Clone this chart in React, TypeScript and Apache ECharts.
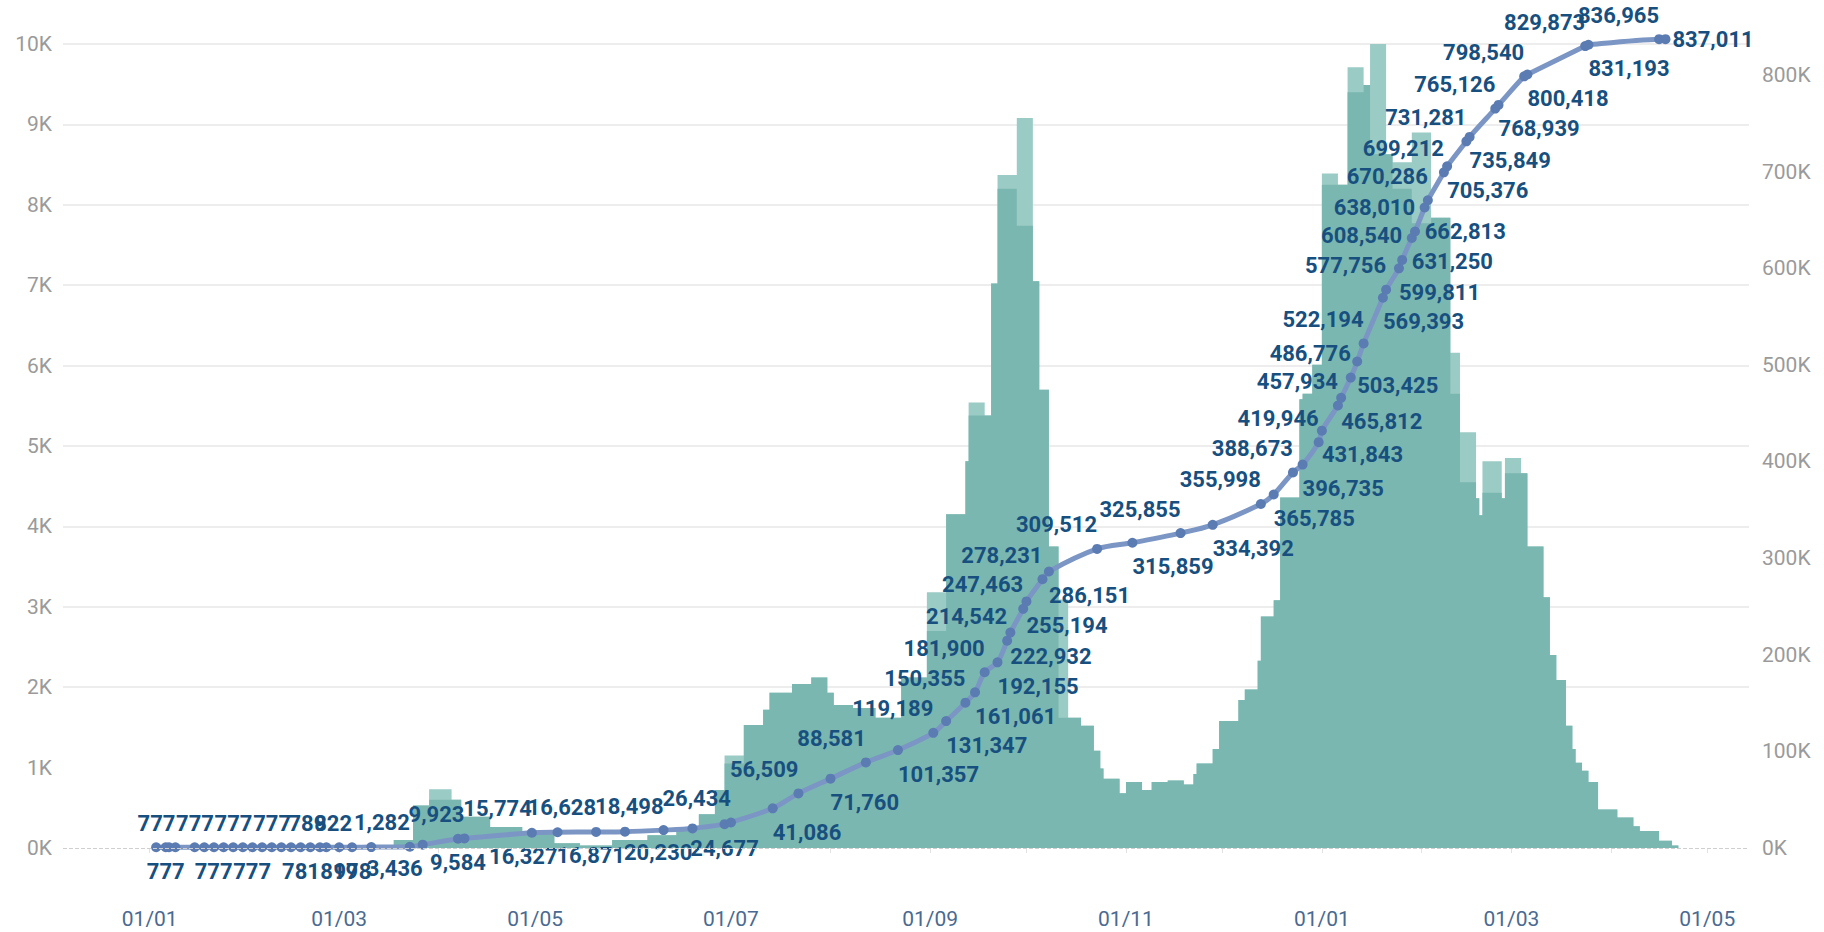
import React, { useEffect, useRef } from 'react';
import * as echarts from 'echarts';

// Daily new cases (stepped bars): step start date, outer (light) value, inner (dark) value
const stepDates = [
  '2021-03-14', '2021-03-18', '2021-03-24', '2021-03-29', '2021-04-05', '2021-04-08', '2021-04-17', '2021-04-27',
  '2021-05-07', '2021-05-15', '2021-05-25', '2021-06-05', '2021-06-14', '2021-06-21', '2021-06-26', '2021-06-29',
  '2021-07-05', '2021-07-11', '2021-07-13', '2021-07-20', '2021-07-26', '2021-07-31', '2021-08-02', '2021-08-08',
  '2021-08-15', '2021-08-23', '2021-08-31', '2021-09-06', '2021-09-12', '2021-09-13', '2021-09-18', '2021-09-20',
  '2021-09-22', '2021-09-28', '2021-10-03', '2021-10-05', '2021-10-08', '2021-10-11', '2021-10-14', '2021-10-18',
  '2021-10-22', '2021-10-24', '2021-10-25', '2021-10-30', '2021-11-01', '2021-11-06', '2021-11-09', '2021-11-14',
  '2021-11-19', '2021-11-22', '2021-11-23', '2021-11-28', '2021-11-30', '2021-12-06', '2021-12-08', '2021-12-12',
  '2021-12-13', '2021-12-17', '2021-12-19', '2021-12-25', '2021-12-26', '2021-12-29', '2022-01-01', '2022-01-06',
  '2022-01-09', '2022-01-14', '2022-01-16', '2022-01-21', '2022-01-23', '2022-01-29', '2022-02-04', '2022-02-10',
  '2022-02-13', '2022-02-18', '2022-02-19', '2022-02-20', '2022-02-26', '2022-02-27', '2022-03-04', '2022-03-06',
  '2022-03-11', '2022-03-13', '2022-03-15', '2022-03-18', '2022-03-20', '2022-03-21', '2022-03-23', '2022-03-25',
  '2022-03-28', '2022-04-03', '2022-04-08', '2022-04-10', '2022-04-16', '2022-04-20', '2022-04-22'
];
const stepValuesOuter = [
  20, 100, 530, 730, 600, 390, 260, 180,
  60, 30, 100, 160, 260, 420, 720, 1150,
  1530, 1720, 1930, 2040, 2120, 1930, 1780, 1740,
  1620, 2120, 3180, 4150, 4810, 5540, 5380, 7020,
  8370, 9080, 7050, 5700, 3750, 3090, 1620, 1520,
  1210, 990, 860, 680, 820, 720, 820, 840,
  790, 920, 1050, 1230, 1580, 1840, 1970, 2330,
  2880, 3080, 4360, 5580, 5650, 6010, 8390, 8250,
  9710, 9490, 10100, 8630, 8530, 8900, 7840, 6160,
  5170, 4350, 4140, 4810, 4350, 4850, 4660, 3750,
  3120, 2400, 2090, 1520, 1230, 1060, 960, 820,
  480, 380, 270, 210, 90, 30, 0
];
const stepValuesInner = [
  20, 100, 530, 600, 600, 390, 260, 180,
  60, 30, 100, 160, 260, 420, 720, 1050,
  1530, 1720, 1930, 2040, 2120, 1930, 1780, 1740,
  1620, 2120, 2700, 4150, 4810, 5380, 5380, 7020,
  8200, 7740, 7050, 5700, 3750, 1620, 1620, 1520,
  1210, 990, 860, 680, 820, 720, 820, 840,
  790, 920, 1050, 1230, 1580, 1840, 1970, 2330,
  2880, 3080, 4360, 5580, 5650, 6010, 8250, 8250,
  9400, 9490, 8630, 8630, 8200, 7770, 7840, 5650,
  4550, 4350, 4140, 4420, 4350, 4660, 4660, 3750,
  3120, 2400, 2090, 1520, 1230, 1060, 960, 820,
  480, 380, 270, 210, 90, 30, 0
];

// Cumulative cases (labelled points)
const cumDates = [
  '2021-01-03', '2021-01-06', '2021-01-07', '2021-01-09', '2021-01-15', '2021-01-18', '2021-01-21', '2021-01-24',
  '2021-01-27', '2021-01-30', '2021-02-02', '2021-02-05', '2021-02-08', '2021-02-11', '2021-02-14', '2021-02-17',
  '2021-02-20', '2021-02-23', '2021-02-25', '2021-03-01', '2021-03-05', '2021-03-11', '2021-03-23', '2021-03-27',
  '2021-04-07', '2021-04-09', '2021-04-30', '2021-05-08', '2021-05-20', '2021-05-29', '2021-06-10', '2021-06-19',
  '2021-06-29', '2021-07-01', '2021-07-14', '2021-07-22', '2021-08-01', '2021-08-12', '2021-08-22', '2021-09-02',
  '2021-09-06', '2021-09-12', '2021-09-15', '2021-09-18', '2021-09-22', '2021-09-25', '2021-09-26', '2021-09-30',
  '2021-10-01', '2021-10-06', '2021-10-08', '2021-10-23', '2021-11-03', '2021-11-18', '2021-11-28', '2021-12-13',
  '2021-12-17', '2021-12-23', '2021-12-26', '2021-12-31', '2022-01-01', '2022-01-06', '2022-01-07', '2022-01-10',
  '2022-01-12', '2022-01-14', '2022-01-20', '2022-01-21', '2022-01-25', '2022-01-26', '2022-01-29', '2022-01-30',
  '2022-02-02', '2022-02-03', '2022-02-08', '2022-02-09', '2022-02-15', '2022-02-16', '2022-02-24', '2022-02-25',
  '2022-03-05', '2022-03-06', '2022-03-24', '2022-03-25', '2022-04-16', '2022-04-18'
];
const cumValues = [
  777, 777, 777, 777, 777, 777, 777, 777,
  777, 777, 777, 777, 777, 777, 777, 777,
  777, 781, 789, 819, 822, 978, 1282, 3436,
  9584, 9923, 15774, 16327, 16628, 16871, 18498, 20230,
  24677, 26434, 41086, 56509, 71760, 88581, 101357, 119189,
  131347, 150355, 161061, 181900, 192155, 214542, 222932, 247463,
  255194, 278231, 286151, 309512, 315859, 325855, 334392, 355998,
  365785, 388673, 396735, 419946, 431843, 457934, 465812, 486776,
  503425, 522194, 569393, 577756, 599811, 608540, 631250, 638010,
  662813, 670286, 699212, 705376, 731281, 735849, 765126, 768939,
  798540, 800418, 829873, 831193, 836965, 837011
];
// label placement per point: a = above, b = below, r = right, - = none;
// < text ends at point, > text starts at point, = centred
const cumLabelSide = [
  '-', 'b=', '-', 'a<', 'b>', '-', 'a<', '-',
  'b>', '-', 'a<', '-', '-', '-', 'a<', '-',
  '-', 'b<', 'a<', 'b=', 'a<', 'b<', 'a<', 'b<',
  'b=', 'a<', 'a<', 'b<', 'a<', 'b<', 'a<', 'b<',
  'b=', 'a<', 'b>', 'a<', 'b>', 'a<', 'b>', 'a<',
  'b>', 'a<', 'b>', 'a<', 'b>', 'a<', 'b>', 'a<',
  'b>', 'a<', 'b>', 'a<', 'b>', 'a<', 'b>', 'a<',
  'b>', 'a<', 'b>', 'a<', 'b>', 'a<', 'b>', 'a<',
  'b>', 'a<', 'b>', 'a<', 'b>', 'a<', 'b>', 'a<',
  'b>', 'a<', 'a<', 'b>', 'a<', 'b>', 'a<', 'b>',
  'a<', 'b>', 'a<', 'b>', 'a<', 'r'
];

const xLabelDates = ['2021-01-01', '2021-03-01', '2021-05-01', '2021-07-01', '2021-09-01', '2021-11-01', '2022-01-01', '2022-03-01', '2022-05-01'];
const xTickDates = [
  '2021-01-01', '2021-02-01', '2021-03-01', '2021-04-01', '2021-05-01', '2021-06-01', '2021-07-01', '2021-08-01',
  '2021-09-01', '2021-10-01', '2021-11-01', '2021-12-01', '2022-01-01', '2022-02-01', '2022-03-01', '2022-04-01', '2022-05-01'
];
const xMin = '2020-12-05';
const xMax = '2022-05-14';

const ts = (s: string) => Date.parse(s + 'T00:00:00Z');
const pad = (n: number) => (n < 10 ? '0' + n : '' + n);

function labelFor(code: string): any {
  if (code === '-') return { show: false };
  if (code === 'r') return { show: true, position: 'right', align: 'left', distance: 2 };
  const position = code[0] === 'a' ? 'top' : 'bottom';
  const align = code[1] === '<' ? 'right' : code[1] === '>' ? 'left' : 'center';
  return { show: true, position, align, distance: 8 };
}

export default function App() {
  const ref = useRef<HTMLDivElement>(null);
  useEffect(() => {
    if (!ref.current) return;
    const chart = echarts.init(ref.current, undefined, { renderer: 'svg' });

    const outerData = stepDates.map((d, i) => [ts(d), stepValuesOuter[i]]);
    const innerData = stepDates.map((d, i) => [ts(d), stepValuesInner[i]]);
    const cumData = cumDates.map((d, i) => ({ value: [ts(d), cumValues[i]], label: labelFor(cumLabelSide[i]) }));

    const axisFont = { fontFamily: 'Roboto', fontSize: 21 };
    const gridColors = ['rgba(0,0,0,0)'].concat(Array(10).fill('#ededed'));

    chart.setOption({
      animation: false,
      backgroundColor: '#ffffff',
      grid: { left: 63, right: 75, top: 44, bottom: 84, containLabel: false },
      xAxis: {
        type: 'value',
        min: ts(xMin),
        max: ts(xMax),
        offset: 46,
        axisLine: { show: false },
        axisTick: {
          show: true,
          customValues: xTickDates.map(ts),
          length: 5,
          lineStyle: { color: '#e2e2e2', width: 1 },
        },
        axisLabel: {
          customValues: xLabelDates.map(ts),
          formatter: (v: number) => {
            const d = new Date(v);
            return pad(d.getUTCDate()) + '/' + pad(d.getUTCMonth() + 1);
          },
          color: '#4a6a91',
          margin: 14,
          ...axisFont,
        },
        splitLine: { show: false },
      },
      yAxis: [
        {
          type: 'value',
          min: 0,
          max: 10000,
          interval: 1000,
          axisLine: { show: false },
          axisTick: { show: false },
          axisLabel: {
            formatter: (v: number) => v / 1000 + 'K',
            color: '#9a9a9a',
            margin: 11,
            ...axisFont,
          },
          splitLine: { show: true, showMinLine: false, lineStyle: { color: gridColors, width: 2 } },
        },
        {
          type: 'value',
          position: 'right',
          min: 0,
          max: 832000,
          interval: 100000,
          axisLine: { show: false },
          axisTick: { show: false },
          axisLabel: {
            formatter: (v: number) => v / 1000 + 'K',
            color: '#9a9a9a',
            margin: 13,
            showMaxLabel: false,
            ...axisFont,
          },
          splitLine: { show: false },
        },
      ],
      series: [
        {
          name: 'Daily cases (outer)',
          type: 'line',
          step: 'end',
          yAxisIndex: 0,
          data: outerData,
          showSymbol: false,
          symbol: 'none',
          lineStyle: { width: 0 },
          areaStyle: { color: '#9bcbc5', opacity: 1 },
          z: 1,
          markLine: {
            silent: true,
            symbol: 'none',
            label: { show: false },
            lineStyle: { type: 'dashed', color: '#cfcfcf', width: 1 },
            data: [{ yAxis: 0 }],
          },
        },
        {
          name: 'Daily cases',
          type: 'line',
          step: 'end',
          yAxisIndex: 0,
          data: innerData,
          showSymbol: false,
          symbol: 'none',
          lineStyle: { width: 0 },
          areaStyle: { color: '#7bb7b1', opacity: 1 },
          z: 2,
        },
        {
          name: 'Cumulative',
          type: 'line',
          yAxisIndex: 1,
          data: cumData,
          smooth: 0.3,
          symbol: 'circle',
          symbolSize: 10,
          clip: false,
          itemStyle: { color: '#5b7cb2' },
          lineStyle: { color: '#7b96c4', width: 5 },
          label: {
            show: true,
            formatter: (p: any) => Number(p.value[1]).toLocaleString('en-US'),
            color: '#17507f',
            fontFamily: 'Roboto',
            fontWeight: 'bold',
            fontSize: 22,
          },
          z: 3,
        },
      ],
    });
    return () => chart.dispose();
  }, []);
  return <div ref={ref} style={{ position: 'fixed', left: 0, top: 0, width: 1824, height: 932, background: '#fff' }} />;
}
